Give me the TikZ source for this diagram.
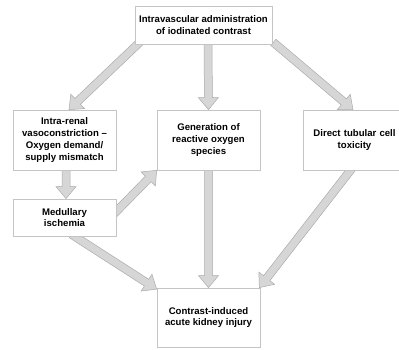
\documentclass[tikz,border=0pt]{standalone}
\usepackage{fontspec}
\setmainfont{Liberation Sans}
\usetikzlibrary{calc,backgrounds}
\definecolor{boxline}{HTML}{C4C4C4}
\definecolor{arrfill}{HTML}{D6D6D6}
\definecolor{arrline}{HTML}{ABABAB}
\tikzset{
  boxnode/.style={draw=boxline, line width=0.7pt, fill=white, align=center, inner sep=0pt,
    font=\fontsize{9.6}{11.7}\selectfont\bfseries, text=black},
  arr/.style={fill=arrfill, draw=arrline, line width=0.5pt, line join=miter}
}
\newcommand\blockarrow[2]{%
  \coordinate (bC) at ($(#2)!12pt!(#1)$);
  \filldraw[arr] ($(#1)!4pt!90:(#2)$) -- ($(bC)!4pt!90:(#2)$) -- ($(bC)!10pt!90:(#2)$) -- (#2)
    -- ($(bC)!10pt!-90:(#2)$) -- ($(bC)!4pt!-90:(#2)$) -- ($(#1)!4pt!-90:(#2)$) -- cycle;}
\begin{document}
\begin{tikzpicture}[x=1pt,y=-1pt]
\useasboundingbox (0,0) rectangle (399,350);
\begin{scope}
\clip (0,0) rectangle (399,350);
\node[boxnode, minimum width=137pt, minimum height=38pt] (top) at (203.5,25) {Intravascular administration\\of iodinated contrast};
\node[boxnode, minimum width=103pt, minimum height=60pt] (vaso) at (64.5,140) {Intra-renal\\vasoconstriction --\\Oxygen demand/\\supply mismatch};
\node[boxnode, minimum width=103pt, minimum height=60pt] (ros) at (208.5,140) {Generation of\\reactive oxygen\\species};
\node[boxnode, minimum width=103pt, minimum height=60pt, text width=103pt] (tox) at (354.5,140) {Direct tubular cell\\toxicity};
\node[boxnode, minimum width=103pt, minimum height=37pt] (isch) at (64.5,217.5) {Medullary\\ischemia};
\node[boxnode, minimum width=103pt, minimum height=59pt] (aki) at (208.5,317.5) {Contrast-induced\\acute kidney injury};

\coordinate (s1) at ($(top.south west)+(5,-2)$);
\coordinate (t1) at ($(vaso.north)+(4.5,0)$);
\coordinate (s2) at ($(top.south)+(4.5,-2)$);
\coordinate (t2) at (ros.north);
\coordinate (s3) at ($(top.south east)+(1,-2)$);
\coordinate (t3) at ($(tox.north)+(-1.5,0)$);
\coordinate (s4) at ($(vaso.south)+(1.5,-2)$);
\coordinate (t4) at ($(isch.north)+(1.5,0)$);
\coordinate (s5) at ($(isch.east)+(-2,-4)$);
\coordinate (t5) at (ros.south west);
\coordinate (s6) at ($(ros.south)+(0,-2)$);
\coordinate (t6) at (aki.north);
\coordinate (s7) at ($(isch.south)+(7,-2)$);
\coordinate (t7) at ($(aki.north west)+(0,1.5)$);
\coordinate (s8) at ($(tox.south)+(-2.5,-2)$);
\coordinate (t8) at ($(aki.north east)+(-1,0)$);
\begin{scope}[on background layer]
\blockarrow{s1}{t1}
\blockarrow{s2}{t2}
\blockarrow{s3}{t3}
\blockarrow{s4}{t4}
\blockarrow{s5}{t5}
\blockarrow{s6}{t6}
\blockarrow{s7}{t7}
\blockarrow{s8}{t8}
\end{scope}
\end{scope}
\end{tikzpicture}
\end{document}
